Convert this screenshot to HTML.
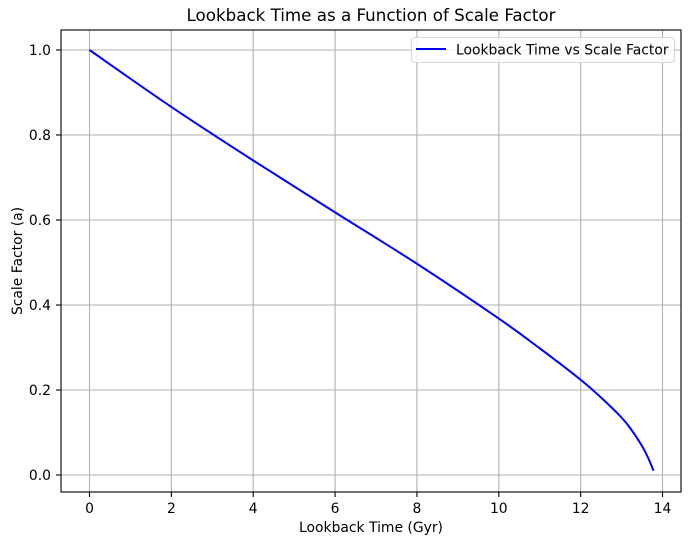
<!DOCTYPE html>
<html><head><meta charset="utf-8"><style>
body{margin:0;background:#fff;font-family:"Liberation Sans","DejaVu Sans",sans-serif}
svg text{font-family:"DejaVu Sans","Liberation Sans",sans-serif}
</style></head><body>
<svg id="chart" width="691" height="545"></svg>
<script>
const lookbackTimes=[0,2,4,6,8,10,11,12,12.5,13,13.25,13.5,13.65,13.78];
const scaleFactors=[1,0.866,0.74,0.618,0.497,0.368,0.298,0.224,0.182,0.135,0.105,0.068,0.04,0.01];
const xTicks=[0,2,4,6,8,10,12,14];
const yTicks=[0,0.2,0.4,0.6,0.8,1.0];
const L=61,R=681,T=30,B=492;
const xs=v=>89.5+v*40.93;
const ys=v=>475-v*425;
const svg=document.getElementById('chart');
const NS='http://www.w3.org/2000/svg';
function mk(tag,attrs,text){const e=document.createElementNS(NS,tag);for(const k in attrs)e.setAttribute(k,attrs[k]);if(text!==undefined)e.textContent=text;svg.appendChild(e);return e;}
xTicks.forEach(t=>{
 const g=mk('line',{x1:xs(t),x2:xs(t),y1:T,y2:B,stroke:'#b0b0b0','stroke-width':1.1});
 
 
 mk('line',{x1:xs(t),x2:xs(t),y1:B,y2:B+5,stroke:'#000','stroke-width':1.1});
 const l=mk('text',{x:xs(t),y:B+21,'font-size':13.9,'text-anchor':'middle'},String(t));
 
 
});
yTicks.forEach(t=>{
 const g=mk('line',{x1:L,x2:R,y1:ys(t),y2:ys(t),stroke:'#b0b0b0','stroke-width':1.1});
 
 
 mk('line',{x1:L-5,x2:L,y1:ys(t),y2:ys(t),stroke:'#000','stroke-width':1.1});
 const l=mk('text',{x:L-10,y:ys(t)+5,'font-size':13.9,'text-anchor':'end'},t.toFixed(1));
 
 
});
const pts=lookbackTimes.map((t,i)=>[xs(t),ys(scaleFactors[i])]);
let d='M'+pts[0][0]+','+pts[0][1];
for(let i=0;i<pts.length-1;i++){
 const p0=pts[Math.max(0,i-1)],p1=pts[i],p2=pts[i+1],p3=pts[Math.min(pts.length-1,i+2)];
 const c1=[p1[0]+(p2[0]-p0[0])/6,p1[1]+(p2[1]-p0[1])/6];
 const c2=[p2[0]-(p3[0]-p1[0])/6,p2[1]-(p3[1]-p1[1])/6];
 d+=' C'+c1+' '+c2+' '+p2;
}
const p=mk('path',{d:d,fill:'none',stroke:'#0000ff','stroke-width':2});


const f=mk('rect',{x:L,y:T,width:R-L,height:B-T,fill:'none',stroke:'#000','stroke-width':1.1});


const ti=mk('text',{x:(L+R)/2,y:21,'font-size':16.7,'text-anchor':'middle'},'Lookback Time as a Function of Scale Factor');


const xt=mk('text',{x:(L+R)/2,y:532,'font-size':13.9,'text-anchor':'middle'},'Lookback Time (Gyr)');


const yt=mk('text',{x:22,y:(T+B)/2,'font-size':13.9,'text-anchor':'middle',transform:'rotate(-90 22 '+((T+B)/2)+')'},'Scale Factor (a)');


const lg=mk('rect',{x:411.5,y:37.5,width:263,height:25,rx:3,fill:'#fff','fill-opacity':0.8,stroke:'#d8d8d8','stroke-width':1.1});


mk('line',{x1:416,x2:446,y1:49,y2:49,stroke:'#0000ff','stroke-width':2});
const lt=mk('text',{x:456,y:54.5,'font-size':13.9},'Lookback Time vs Scale Factor');


</script>
</body></html>
